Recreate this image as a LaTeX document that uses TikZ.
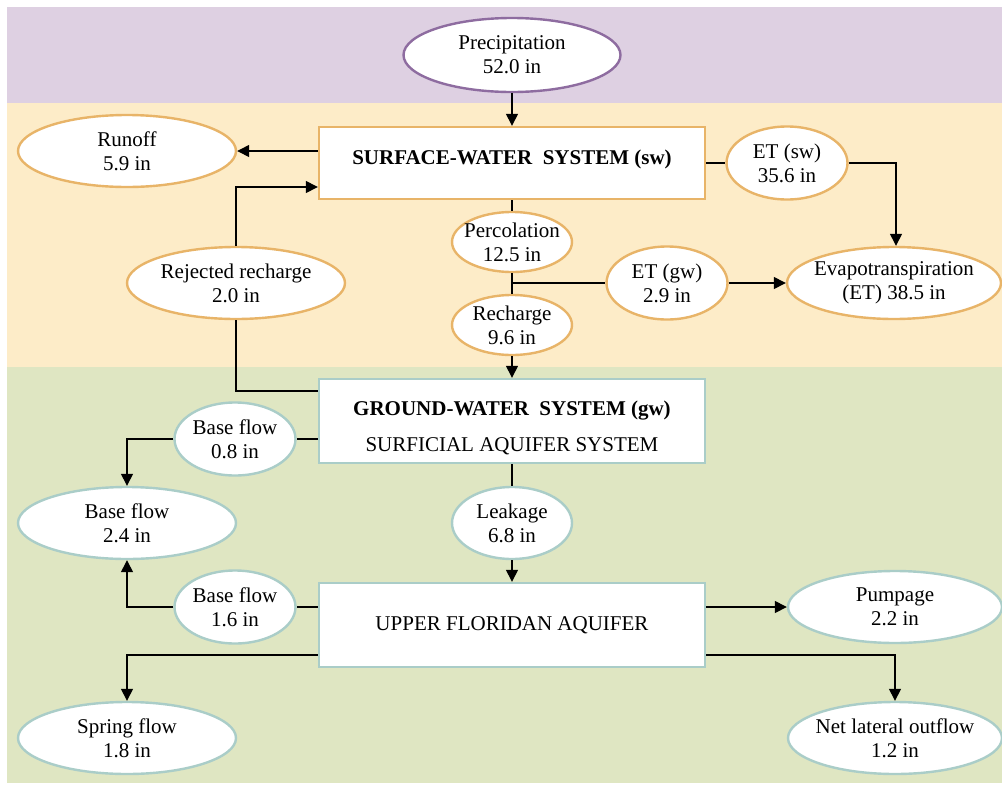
\documentclass[tikz,border=0pt]{standalone}
\usepackage{fontspec}
\setmainfont{Liberation Serif}
\usetikzlibrary{shapes.geometric}
\usetikzlibrary{arrows.meta}

\definecolor{fondmauve}{RGB}{222,208,226}
\definecolor{fondorange}{RGB}{253,236,200}
\definecolor{fondvert}{RGB}{223,230,194}
\definecolor{traitmauve}{RGB}{142,108,160}
\definecolor{traitorange}{RGB}{232,180,104}
\definecolor{traitvert}{RGB}{170,205,200}

\begin{document}
\begin{tikzpicture}[x=1pt,y=-1pt,font=\fontsize{21}{24}\selectfont]
	\tikzstyle{ovale}=[ellipse,fill=white,line width=2.4pt,inner sep=-20pt,align=center]
	\tikzstyle{grand}=[ovale,minimum width=218pt,minimum height=72pt]
	\tikzstyle{petit}=[ovale,minimum width=121pt,minimum height=73pt]
	\tikzstyle{mince}=[ovale,minimum width=120pt,minimum height=60pt]
	\tikzstyle{boite}=[rectangle,fill=white,line width=2.4pt,minimum width=386pt,align=center]
	\tikzstyle{fleche}=[-{Triangle[length=12pt,width=12pt]},line width=1.4pt]
	\tikzstyle{trait}=[line width=1.4pt]
	\useasboundingbox (0,0) rectangle (1002,785);
	% bandes
	\fill[fondmauve] (7,7) rectangle (1002,103);
	\fill[fondorange] (7,103) rectangle (1002,367);
	\fill[fondvert] (7,367) rectangle (1002,783);
	% ovales et boites
	\node[ovale,draw=traitmauve,minimum width=217pt,minimum height=74pt] (P) at (512,55){Precipitation\\52.0 in};
	\node[boite,draw=traitorange,minimum height=72pt,text depth=12pt] (SW) at (512,163){\textbf{SURFACE-WATER\ \ SYSTEM (sw)}};
	\node[grand,draw=traitorange] (RO) at (127,151){Runoff\\5.9 in};
	\node[grand,draw=traitorange] (RR) at (236,283){Rejected recharge\\2.0 in};
	\node[petit,draw=traitorange] (ETs) at (787,163){ET (sw)\\35.6 in};
	\node[grand,draw=traitorange,minimum width=214pt] (ET) at (894,283){Evapotranspiration\\(ET) 38.5 in};
	\node[mince,draw=traitorange] (PE) at (512,242){Percolation\\12.5 in};
	\node[petit,draw=traitorange] (ETg) at (667,283){ET (gw)\\2.9 in};
	\node[mince,draw=traitorange] (RE) at (512,325){Recharge\\9.6 in};
	\coordinate (J) at (512,283);
	\node[boite,draw=traitvert,minimum height=84pt,text depth=0pt,text height=60pt] (GW) at (512,421){\textbf{GROUND-WATER\ \ SYSTEM (gw)}\\[12pt]SURFICIAL AQUIFER SYSTEM};
	\node[petit,draw=traitvert] (BF1) at (235,439){Base flow\\0.8 in};
	\node[grand,draw=traitvert] (BF) at (127,523){Base flow\\2.4 in};
	\node[ovale,draw=traitvert,minimum width=120pt,minimum height=72pt] (LK) at (512,523){Leakage\\6.8 in};
	\node[boite,draw=traitvert,minimum height=84pt] (UFA) at (512,625){UPPER FLORIDAN AQUIFER};
	\node[petit,draw=traitvert] (BF2) at (235,607){Base flow\\1.6 in};
	\node[grand,draw=traitvert,minimum width=214pt] (PU) at (895,607){Pumpage\\2.2 in};
	\node[grand,draw=traitvert,minimum width=214pt] (NL) at (895,738){Net lateral outflow\\1.2 in};
	\node[grand,draw=traitvert] (SF) at (127,738){Spring flow\\1.8 in};
	% liaisons
	\draw[fleche] (P) -- (SW);
	\draw[fleche] (SW.west |- RO.east) -- (RO.east);
	\draw[fleche] (RR.north) |- ([yshift=-24pt]SW.west);
	\draw[trait] (RR.south) |- ([yshift=30pt]GW.west);
	\draw[trait] (SW.east) -- (ETs.west);
	\draw[fleche] (ETs.east) -| ([xshift=2pt]ET.north);
	\draw[trait] (SW.south) -- (PE.north);
	\draw[trait] (PE.south) -- (RE.north);
	\draw[trait] (J) -- (ETg.west);
	\draw[fleche] (ETg.east) -- (ET.west);
	\draw[fleche] (RE.south) -- (GW.north);
	\draw[trait] (GW.west |- BF1.east) -- (BF1.east);
	\draw[fleche] (BF1.west) -| (BF.north);
	\draw[trait] (UFA.west |- BF2.east) -- (BF2.east);
	\draw[fleche] (BF2.west) -| (BF.south);
	\draw[trait] (GW.south) -- (LK.north);
	\draw[fleche] (LK.south) -- (UFA.north);
	\draw[fleche] (UFA.east |- PU.west) -- (PU.west);
	\draw[fleche] ([yshift=-30pt]UFA.east) -| (NL.north);
	\draw[fleche] ([yshift=-30pt]UFA.west) -| (SF.north);
\end{tikzpicture}
\end{document}
